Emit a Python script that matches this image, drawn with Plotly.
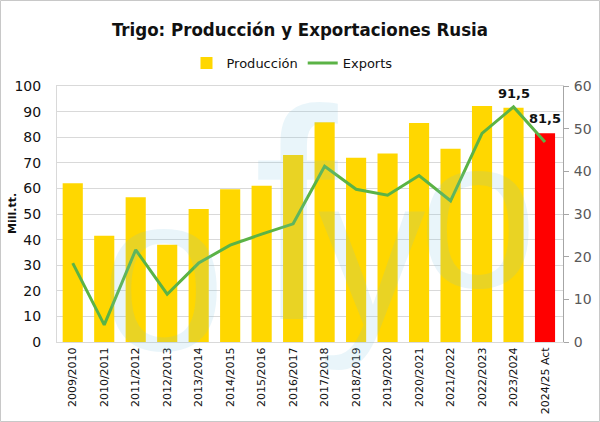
import plotly.graph_objects as go

categories = ["2009/2010", "2010/2011", "2011/2012", "2012/2013", "2013/2014",
              "2014/2015", "2015/2016", "2016/2017", "2017/2018", "2018/2019",
              "2019/2020", "2020/2021", "2021/2022", "2022/2023", "2023/2024",
              "2024/25 Act"]
production = [62.0, 41.5, 56.5, 38.0, 52.0, 59.7, 61.0, 73.0, 85.8, 72.0,
              73.6, 85.5, 75.5, 92.2, 91.5, 81.5]
exports = [18.5, 4.0, 21.6, 11.2, 18.5, 22.7, 25.3, 27.7, 41.2, 35.8,
           34.4, 39.0, 33.1, 48.9, 55.1, 46.9]
labelled = ["2023/2024", "2024/25 Act"]

YELLOW = "#FFD700"
RED = "#FF0000"
GREEN = "#5BB346"

W, H = 600, 422
ML, MR, MT, MB = 57, 37, 86, 80
PW, PH = W - ML - MR, H - MT - MB


def px(x):
    return (x - ML) / PW


def py(y):
    return (H - MB - y) / PH


bar_colors = [RED if c == categories[-1] else YELLOW for c in categories]

fig = go.Figure()
fig.add_trace(go.Bar(
    x=categories, y=production, name="Producción",
    marker=dict(color=bar_colors, line=dict(width=0)),
    yaxis="y",
))
fig.add_trace(go.Scatter(
    x=categories, y=exports, name="Exports", mode="lines",
    line=dict(color=GREEN, width=3),
    yaxis="y2",
))

annotations = []
for c, v in zip(categories, production):
    if c in labelled:
        annotations.append(dict(
            x=c, y=v, xref="x", yref="y", text=f"{v:.1f}".replace(".", ","),
            showarrow=False, yanchor="bottom", yshift=5,
            font=dict(family="DejaVu Sans", size=13, color="#111111", weight="bold"),
        ))

# watermark logo letters
wm = [("o", 163, 272, 225), ("f", 296, 215, 300), ("y", 372, 250, 215), ("o", 478, 212, 215)]
for ch, xx, yy, sz in wm:
    annotations.append(dict(
        x=px(xx), y=py(yy), xref="paper", yref="paper", text=ch, showarrow=False,
        xanchor="center", yanchor="middle",
        font=dict(family="Liberation Sans", size=sz, color="rgba(120,190,225,0.16)"),
    ))

annotations.append(dict(
    x=px(12), y=0.5, xref="paper", yref="paper", text="Mill.tt.", showarrow=False,
    textangle=-90, xanchor="center", yanchor="middle",
    font=dict(family="DejaVu Sans", size=11, color="#111111", weight="bold"),
))

fig.update_layout(
    width=W, height=H,
    margin=dict(l=ML, r=MR, t=MT, b=MB, pad=0, autoexpand=False),
    paper_bgcolor="white", plot_bgcolor="white",
    title=dict(
        text="<b>Trigo: Producción y Exportaciones Rusia</b>",
        x=0.5, xanchor="center", y=1 - 30 / H, yanchor="middle",
        font=dict(family="DejaVu Sans Condensed", size=18.5, color="#111111"),
    ),
    legend=dict(
        orientation="h", x=px(292), xanchor="center", y=py(63), yanchor="middle",
        font=dict(family="DejaVu Sans", size=13, color="#111111"),
        bgcolor="rgba(0,0,0,0)", itemwidth=30,
    ),
    bargap=0.36,
    separators=",.",
    xaxis=dict(
        type="category", tickangle=-90, automargin=False,
        tickfont=dict(family="DejaVu Sans", size=11, color="#111111"),
        showline=True, linecolor="#d9d9d9", linewidth=1, mirror=True,
        ticks="", showgrid=False,
    ),
    yaxis=dict(
        range=[0, 100], dtick=10, automargin=False,
        tickfont=dict(family="DejaVu Sans", size=14, color="#111111"),
        showgrid=True, gridcolor="#d9d9d9", gridwidth=1,
        showline=True, linecolor="#d9d9d9", linewidth=1,
        zeroline=False, ticks="", ticklabelstandoff=12,
    ),
    yaxis2=dict(
        range=[0, 60], dtick=10, overlaying="y", side="right", automargin=False,
        tickfont=dict(family="DejaVu Sans", size=14, color="#595959"),
        showgrid=False, showline=True, linecolor="#a6a6a6", linewidth=1,
        ticks="outside", ticklen=5, tickcolor="#a6a6a6",
        zeroline=False, ticklabelstandoff=2,
    ),
    annotations=annotations,
    shapes=[dict(
        type="rect", xref="paper", yref="paper",
        x0=px(0.5), x1=px(W - 0.5), y0=py(H - 0.5), y1=py(0.5),
        line=dict(color="#c8c8c8", width=1), fillcolor="rgba(0,0,0,0)", layer="below",
    )],
)

fig.write_html("out.html", config={"displayModeBar": False},
               post_script="document.body.style.margin='0px';")
